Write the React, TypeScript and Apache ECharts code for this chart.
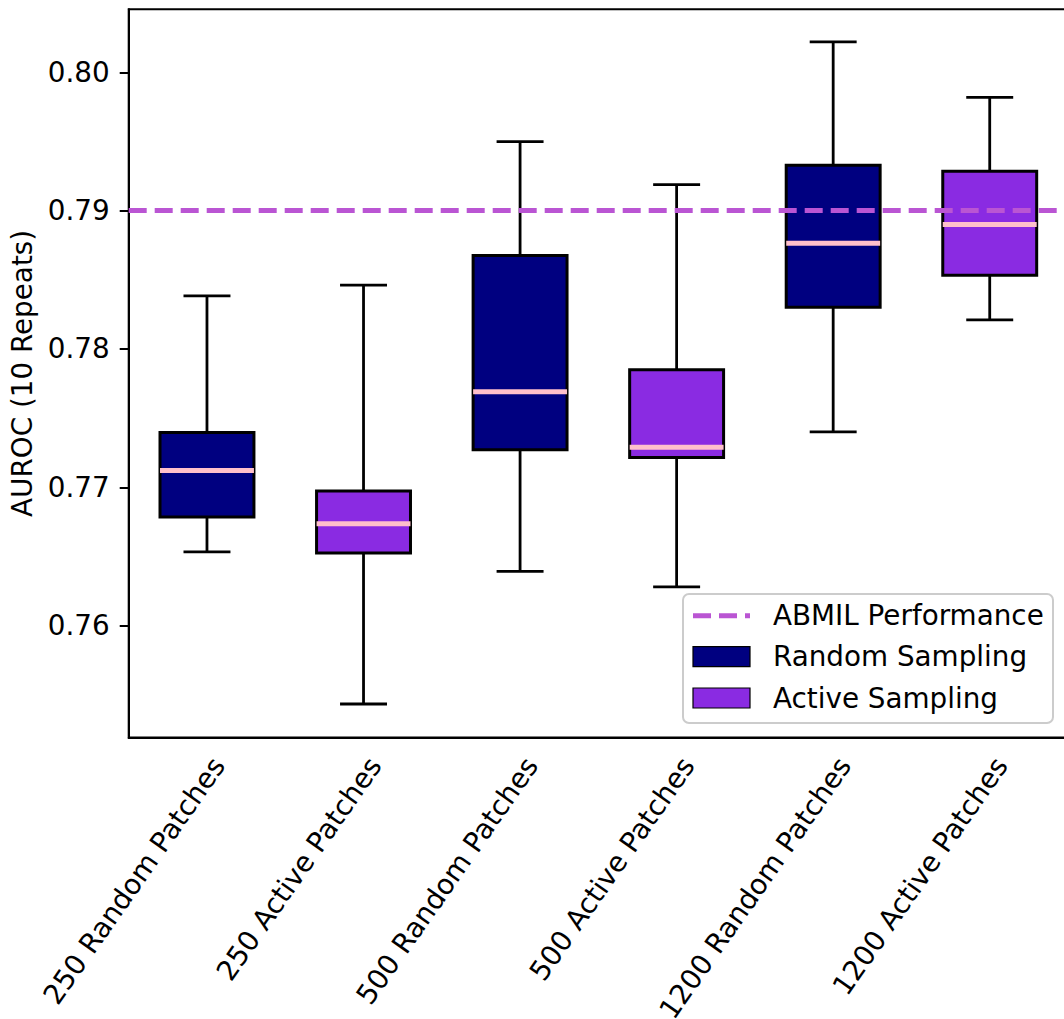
import React, { useEffect, useRef } from 'react';
import * as echarts from 'echarts';

// Category labels along the x axis
const categories = [
  '250 Random Patches',
  '250 Active Patches',
  '500 Random Patches',
  '500 Active Patches',
  '1200 Random Patches',
  '1200 Active Patches',
];

// Five-number summaries: [min, Q1, median, Q3, max]
const randomPositions = [0, 2, 4];
const randomStats = [
  [0.76534, 0.76785, 0.77121, 0.77396, 0.78384],
  [0.76392, 0.77271, 0.7769, 0.78675, 0.79499],
  [0.77401, 0.78302, 0.78764, 0.79328, 0.80219],
];

const activePositions = [1, 3, 5];
const activeStats = [
  [0.75434, 0.76525, 0.76736, 0.76973, 0.78461],
  [0.76281, 0.77215, 0.7729, 0.77849, 0.79188],
  [0.7821, 0.78533, 0.78899, 0.79285, 0.79819],
];

// Reference AUROC of the full ABMIL model
const abmilAuroc = 0.7901;

// Y axis range and tick values
const yMin = 0.75192;
const yMax = 0.80455;
const yTicks = [0.76, 0.77, 0.78, 0.79, 0.8];

const FONT = 'DejaVu Sans';
const FONT_SIZE = 27.8;
const NAVY = '#000080';
const VIOLET = '#8A2BE2';
const ORCHID = '#BA55D3';
const PINK = '#FFC0CB';

function boxRenderer(fill: string) {
  return (_params: any, api: any) => {
    const x = api.value(0);
    const band = api.size([1, 0])[0];
    const half = band * 0.3;
    const capHalf = band * 0.15;
    const [cx, yLow] = api.coord([x, api.value(1)]);
    const yQ1 = api.coord([x, api.value(2)])[1];
    const yMed = api.coord([x, api.value(3)])[1];
    const yQ3 = api.coord([x, api.value(4)])[1];
    const yHigh = api.coord([x, api.value(5)])[1];
    const stroke = { stroke: '#000', lineWidth: 2.8 };
    return {
      type: 'group',
      children: [
        { type: 'line', shape: { x1: cx, y1: yQ1, x2: cx, y2: yLow }, style: stroke },
        { type: 'line', shape: { x1: cx, y1: yQ3, x2: cx, y2: yHigh }, style: stroke },
        { type: 'line', shape: { x1: cx - capHalf, y1: yLow, x2: cx + capHalf, y2: yLow }, style: stroke },
        { type: 'line', shape: { x1: cx - capHalf, y1: yHigh, x2: cx + capHalf, y2: yHigh }, style: stroke },
        {
          type: 'rect',
          shape: { x: cx - half, y: yQ3, width: half * 2, height: yQ1 - yQ3 },
          style: { fill, stroke: '#000', lineWidth: 3 },
        },
        {
          type: 'line',
          shape: { x1: cx - half, y1: yMed, x2: cx + half, y2: yMed },
          style: { stroke: PINK, lineWidth: 5 },
        },
      ],
    };
  };
}

function legendGraphic() {
  const left = 683;
  const top = 594;
  const handleX = 693;
  const handleW = 57;
  const textX = 773;
  const rows = [615.7, 656.7, 698];
  const textStyle = { fontSize: FONT_SIZE, fontFamily: FONT, fill: '#000', verticalAlign: 'middle' as const };
  return [
    {
      type: 'rect',
      z: 100,
      shape: { x: left, y: top, width: 370, height: 129, r: 6 },
      style: { fill: 'rgba(255,255,255,0.8)', stroke: '#cccccc', lineWidth: 2 },
    },
    {
      type: 'line',
      z: 101,
      shape: { x1: handleX, y1: rows[0], x2: handleX + handleW, y2: rows[0] },
      style: { stroke: ORCHID, lineWidth: 5, lineDash: [18, 8] },
    },
    {
      type: 'rect',
      z: 101,
      shape: { x: handleX, y: rows[1] - 10, width: handleW, height: 20 },
      style: { fill: NAVY, stroke: '#000', lineWidth: 1.2 },
    },
    {
      type: 'rect',
      z: 101,
      shape: { x: handleX, y: rows[2] - 10, width: handleW, height: 20 },
      style: { fill: VIOLET, stroke: '#000', lineWidth: 1.2 },
    },
    { type: 'text', z: 101, x: textX, y: rows[0], style: { ...textStyle, text: 'ABMIL Performance' } },
    { type: 'text', z: 101, x: textX, y: rows[1], style: { ...textStyle, text: 'Random Sampling' } },
    { type: 'text', z: 101, x: textX, y: rows[2], style: { ...textStyle, text: 'Active Sampling' } },
  ];
}

export default function App() {
  const ref = useRef<HTMLDivElement>(null);

  useEffect(() => {
    if (!ref.current) return;
    const chart = echarts.init(ref.current, undefined, { renderer: 'svg' });
    const axisStroke = { color: '#000', width: 2 };
    const option: any = {
      animation: false,
      textStyle: { fontFamily: FONT },
      grid: {
        left: 128.7,
        right: -4,
        top: 9.3,
        bottom: 281.5,
        outerBoundsMode: 'none',
        containLabel: false,
        show: true,
        borderColor: '#000',
        borderWidth: 2,
        backgroundColor: 'transparent',
      },
      xAxis: {
        type: 'category',
        data: categories,
        boundaryGap: true,
        axisLine: { lineStyle: axisStroke },
        axisTick: { alignWithLabel: true, length: 9, lineStyle: axisStroke },
        axisLabel: {
          interval: 0,
          rotate: 55,
          align: 'right',
          verticalAlign: 'top',
          margin: 15,
          fontSize: FONT_SIZE,
          fontFamily: FONT,
          color: '#000',
        },
        splitLine: { show: false },
      },
      yAxis: {
        type: 'value',
        min: yMin,
        max: yMax,
        name: 'AUROC (10 Repeats)',
        nameLocation: 'middle',
        nameGap: 89,
        nameTextStyle: { fontSize: FONT_SIZE, fontFamily: FONT, color: '#000' },
        axisLine: { show: true, lineStyle: axisStroke },
        axisTick: { show: true, length: 9, lineStyle: axisStroke, customValues: yTicks },
        axisLabel: {
          customValues: yTicks,
          formatter: (v: number) => v.toFixed(2),
          fontSize: FONT_SIZE,
          fontFamily: FONT,
          color: '#000',
          margin: 19,
        },
        splitLine: { show: false },
      },
      series: [
        {
          name: 'Random Sampling',
          type: 'custom',
          renderItem: boxRenderer(NAVY),
          encode: { x: 0, y: [1, 2, 3, 4, 5] },
          data: randomPositions.map((p, i) => [p, ...randomStats[i]]),
          z: 2,
        },
        {
          name: 'Active Sampling',
          type: 'custom',
          renderItem: boxRenderer(VIOLET),
          encode: { x: 0, y: [1, 2, 3, 4, 5] },
          data: activePositions.map((p, i) => [p, ...activeStats[i]]),
          z: 2,
        },
        {
          name: 'ABMIL Performance',
          type: 'line',
          data: [],
          z: 5,
          markLine: {
            silent: true,
            symbol: 'none',
            label: { show: false },
            lineStyle: { color: ORCHID, width: 5, type: [18, 8] },
            data: [{ yAxis: abmilAuroc }],
          },
        },
      ],
      graphic: legendGraphic(),
    };
    chart.setOption(option);
    return () => chart.dispose();
  }, []);

  return (
    <div
      ref={ref}
      style={{ position: 'fixed', left: 0, top: 0, width: 1064, height: 1019, background: '#fff' }}
    />
  );
}
